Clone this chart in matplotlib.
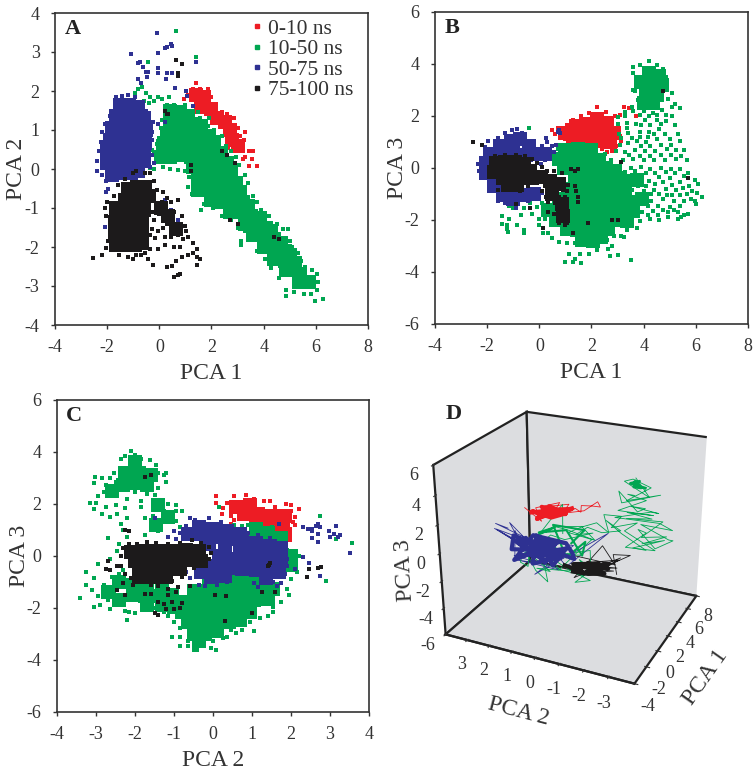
import matplotlib
matplotlib.use("Agg")
import matplotlib.pyplot as plt

# Values. "dense" points stand for the packed parts of a
# cloud and get a bigger square, the others are the single frames around them.
names = ["0-10 ns", "10-50 ns", "50-75 ns", "75-100 ns"]
colors = ["#ed1c24", "#00a651", "#2e3192", "#1c1a1b"]

# Panel A: PCA 1, PCA 2
a_red_dense = [(1.4,1.9),(1.7,1.85),(1.6,1.6),(2.0,1.55),(2.2,1.3),(2.5,1.2),(2.7,1.0),(2.8,0.75),(3.0,0.6)]
a_red = [(0.95,1.8),(1.1,1.9),(1.3,2.05),(1.4,2.2),(1.55,2.05),(1.85,2.05),(2.0,1.85),(2.15,1.6),(2.4,1.45),(2.6,1.4),(2.85,1.3),
         (3.0,1.05),(3.1,0.85),(3.25,0.75),(3.3,0.95),(3.45,0.45),(3.6,0.45),(3.3,0.3),(3.55,0.25),(3.2,0.25),(3.45,0.07),(3.73,0.08),(3.0,0.45),(2.65,0.55)]
a_green_dense = [(0.4,1.5),(0.8,1.45),(1.1,1.35),(0.4,1.2),(0.8,1.2),(1.2,1.15),(1.6,1.1),(0.3,0.9),(0.7,0.9),(1.1,0.9),(1.5,0.85),(1.9,0.85),(2.1,0.7),
                 (0.15,0.6),(0.5,0.6),(0.9,0.6),(1.3,0.6),(1.7,0.6),(2.1,0.5),(2.35,0.4),(0.05,0.32),(0.4,0.32),(0.8,0.35),(1.2,0.3),(1.6,0.3),(2.0,0.25),(2.4,0.2),(2.6,0.15),
                 (1.3,0.05),(1.7,0.0),(2.1,-0.05),(2.5,-0.05),(2.75,-0.05),(1.5,-0.25),(1.9,-0.3),(2.3,-0.3),(2.7,-0.3),(2.95,-0.35),(1.5,-0.55),(1.9,-0.55),(2.3,-0.6),(2.7,-0.6),(3.1,-0.6),
                 (2.0,-0.8),(2.4,-0.85),(2.8,-0.85),(3.2,-0.85),(3.4,-0.95),(2.7,-1.1),(3.1,-1.1),(3.5,-1.2),(3.85,-1.25),(3.3,-1.4),(3.7,-1.45),(4.1,-1.5),(4.3,-1.6),
                 (3.6,-1.7),(4.0,-1.75),(4.4,-1.8),(4.65,-1.9),(4.0,-2.0),(4.4,-2.05),(4.8,-2.1),(5.0,-2.2),(4.4,-2.3),(4.8,-2.35),(5.2,-2.4),(4.85,-2.6),(5.2,-2.6),(5.4,-2.7),(5.35,-2.9),(5.75,-2.9)]
a_green = [(-0.95,1.95),(-0.8,2.05),(-0.65,2.1),(-0.5,1.95),(-0.35,1.85),(-0.2,1.75),(-0.05,1.85),(0.1,1.8),(0.3,1.65),(0.55,1.65),(0.85,1.6),(1.0,1.65),(1.25,1.5),(1.55,1.3),
           (1.85,1.1),(2.1,1.0),(2.4,0.85),(2.55,0.6),(2.75,0.45),(2.95,0.3),(3.05,0.1),(3.3,-0.15),(3.4,-0.35),(3.6,-0.7),(3.75,-0.85),(3.9,-1.05),(4.2,-1.2),(4.5,-1.4),(4.75,-1.55),(4.95,-1.55),
           (5.0,-1.85),(5.1,-2.0),(5.3,-2.15),(5.45,-2.35),(5.6,-2.5),(5.85,-2.6),(6.05,-2.7),(6.1,-2.9),(6.05,-3.1),(6.27,-3.33),(5.98,-3.38),(5.8,-3.2),(5.55,-3.2),(5.15,-3.15),(4.85,-3.1),(4.85,-3.25),
           (4.6,-2.8),(4.3,-2.55),(4.05,-2.3),(3.75,-2.1),(3.15,-1.95),(3.15,-1.85),(3.3,-1.6),(3.0,-1.5),(2.75,-1.3),(2.4,-1.2),(2.05,-1.0),(1.6,-1.05),(1.7,-0.9),(1.25,-0.65),(1.1,-0.45),(1.15,-0.2),
           (1.0,-0.05),(0.7,-0.02),(0.4,0.0),(0.15,0.05),(-0.2,0.0),(-0.35,0.02),(-0.1,0.2),(-0.2,0.4),(-0.1,0.65),(0.0,0.8),(0.05,1.05),(-0.4,0.75),(-0.3,0.5),(0.1,1.25),(-0.6,1.75),(-0.4,1.7),
           (0.37,1.85),(0.65,3.55),(-0.42,2.75),(1.42,2.88),(1.2,1.4),(1.5,1.45),(1.9,1.3)]
a_blue_dense = [(-1.5,1.65),(-1.15,1.65),(-0.8,1.6),(-1.65,1.35),(-1.3,1.35),(-0.95,1.35),(-0.6,1.3),(-1.8,1.05),(-1.45,1.05),(-1.1,1.05),(-0.75,1.0),(-0.5,1.0),(-1.9,0.75),(-1.55,0.75),(-1.2,0.75),(-0.85,0.75),
                (-0.55,0.7),(-2.0,0.45),(-1.65,0.45),(-1.3,0.45),(-0.95,0.45),(-0.6,0.4),(-2.0,0.15),(-1.65,0.15),(-1.3,0.15),(-0.95,0.15),(-0.6,0.2),(-1.8,-0.15),(-1.5,-0.1),(-1.1,-0.1),(-0.8,-0.05)]
a_blue = [(-1.65,1.85),(-1.45,1.88),(-1.2,1.9),(-0.95,1.85),(-0.7,1.7),(-0.5,1.5),(-0.4,1.25),(-0.25,1.2),(-0.05,1.15),(0.2,1.2),(-0.28,0.95),(-0.3,0.75),(-0.35,0.55),(-0.3,0.35),(-0.2,0.15),
          (-0.35,0.05),(-1.9,1.35),(-2.1,1.15),(-2.2,0.95),(-2.25,0.7),(-2.3,0.45),(-2.4,0.2),(-2.4,-0.05),(-2.2,-0.15),(-2.05,-0.3),(-1.95,-0.5),(-2.05,-0.58),(-2.08,-1.48),(-0.6,-0.75),(0.2,-0.8),(0.45,-1.05),(0.7,-1.3),
          (-1.1,2.95),(-0.1,3.5),(-0.05,2.98),(0.2,3.1),(0.28,3.12),(0.45,3.2),(0.5,3.15),(1.4,2.75),(-0.8,2.72),(-0.75,2.75),(-0.62,2.62),(-0.5,2.5),(-0.42,2.5),(-0.05,2.6),(-0.05,2.45),(0.28,2.47),(0.5,2.47),
          (-0.8,2.3),(-0.7,2.2),(-0.48,2.35),(0.25,2.3),(0.6,2.08),(1.03,2.0),(1.05,1.88),(1.3,1.62)]
a_black_dense = [(-1.2,-0.5),(-0.85,-0.45),(-0.55,-0.45),(-1.3,-0.8),(-0.95,-0.8),(-0.6,-0.75),(-0.4,-0.7),(-1.65,-1.0),(-1.3,-1.1),(-0.95,-1.1),(-0.6,-1.05),(-1.7,-1.35),(-1.35,-1.4),(-1.0,-1.4),(-0.65,-1.35),
                 (-1.7,-1.7),(-1.35,-1.7),(-1.0,-1.7),(-0.65,-1.65),(-1.65,-1.95),(-1.3,-1.95),(-0.95,-1.95),(-0.65,-1.9),(0.05,-1.0),(0.35,-1.2),(0.65,-1.55)]
a_black = [(-1.6,-0.4),(-1.3,-0.25),(-1.0,-0.1),(-0.9,-0.05),(-0.55,-0.1),(-0.35,-0.1),(-0.2,-0.3),(-0.1,-0.55),(0.15,-0.6),(0.28,-0.75),(0.45,-0.85),(0.73,-0.8),(0.1,-0.85),(-0.1,-0.95),(-0.25,-1.1),
           (-0.2,-1.3),(0.0,-1.15),(0.2,-1.05),(0.35,-1.15),(0.55,-1.1),(0.85,-1.2),(1.0,-1.45),(1.03,-1.6),(0.75,-1.45),(0.55,-1.5),(0.3,-1.4),(0.15,-1.5),(-0.05,-1.6),(-0.3,-1.55),(-0.35,-1.7),
           (-0.15,-1.78),(0.2,-1.75),(0.45,-1.75),(0.7,-1.7),(0.9,-1.8),(1.1,-1.75),(1.3,-1.9),(1.45,-2.05),(0.8,-2.0),(0.55,-2.0),(0.2,-1.95),(-0.05,-2.05),(-0.35,-2.05),(-0.55,-2.15),(-0.7,-2.2),(-0.45,-2.3),
           (-0.25,-2.45),(0.28,-2.52),(0.48,-2.48),(0.65,-2.35),(0.85,-2.25),(1.1,-2.2),(1.28,-2.15),(1.45,-2.25),(1.55,-2.3),(1.45,-2.45),(0.55,-2.78),(0.7,-2.72),(0.78,-2.7),(-2.55,-2.28),(-2.2,-2.2),(-2.05,-2.02),
           (-1.95,-1.85),(-2.05,-1.2),(-2.1,-1.0),(-2.0,-0.85),(-1.75,-0.7),(-1.55,-2.2),(-1.2,-2.25),(-1.0,-2.3),(-0.9,-2.2),(0.2,1.5),(0.3,1.4),(0.35,1.4),(0.65,2.8),(0.88,2.7),(0.7,2.45),(0.7,2.38),
           (2.4,0.45),(2.6,0.35),(2.9,0.15),(1.2,0.1),(1.2,-0.05),(2.7,-1.3),(3.0,-1.42),(4.4,-1.75),(4.6,-1.8)]

# Panel B: PCA 1, PCA 3
b_red_dense = [(1.0,1.35),(1.4,1.6),(1.8,1.7),(2.2,1.9),(2.6,1.75),(1.3,1.2),(1.7,1.25),(2.1,1.4),(2.5,1.3),(2.85,1.35),(2.2,1.05),(2.7,1.0)]
b_red = [(0.5,1.45),(0.6,1.3),(0.7,1.55),(1.05,1.65),(1.3,1.85),(1.6,2.0),(1.9,2.1),(2.2,2.35),(2.55,2.15),(2.9,2.0),(3.1,2.05),(3.25,2.35),(3.45,2.3),(3.7,2.0),(3.05,1.5),(3.1,1.25),(3.15,1.05),(2.9,0.9),
         (2.8,0.65),(2.95,0.85),(0.8,1.2),(1.0,1.1),(2.4,0.72),(2.6,0.6),(2.4,0.45)]
b_green_dense = [(1.0,0.7),(1.5,0.75),(2.0,0.7),(0.75,0.35),(1.15,0.35),(1.55,0.35),(1.95,0.35),(2.3,0.3),(0.95,0.0),(1.35,0.0),(1.75,0.0),(2.15,0.0),(2.55,0.0),(2.9,-0.1),(1.35,-0.4),(1.75,-0.4),(2.15,-0.4),(2.55,-0.4),(2.95,-0.4),(3.2,-0.5),
                 (1.3,-0.8),(1.7,-0.8),(2.1,-0.8),(2.5,-0.8),(2.9,-0.8),(3.3,-0.85),(0.85,-1.2),(1.25,-1.2),(1.65,-1.2),(2.05,-1.2),(2.45,-1.2),(2.85,-1.2),(3.25,-1.2),(3.6,-1.3),(0.35,-1.6),(0.75,-1.55),(1.2,-1.6),(1.6,-1.6),(2.0,-1.6),(2.4,-1.6),
                 (2.8,-1.6),(3.2,-1.6),(3.6,-1.65),(0.65,-2.0),(1.05,-2.0),(1.45,-2.0),(1.85,-2.0),(2.25,-2.0),(2.65,-2.0),(3.05,-2.0),(3.35,-2.05),(1.05,-2.35),(1.45,-2.4),(1.85,-2.4),(2.25,-2.4),(2.65,-2.35),(1.65,-2.75),(2.05,-2.8),(2.35,-2.65),
                 (4.2,3.65),(4.6,3.55),(3.9,3.3),(4.3,3.3),(4.7,3.2),(4.1,2.9),(4.5,2.8),(4.35,2.5),(4.0,2.5),(3.75,-0.45),(3.95,-1.2)]
b_green = [(-0.4,1.55),(3.6,3.65),(3.6,3.9),(3.85,3.95),(4.2,4.1),(4.5,3.95),(4.75,3.8),(4.85,3.5),(4.65,3.0),(5.1,2.9),(4.95,2.65),(5.2,2.45),(5.1,2.35),(5.4,2.3),(3.6,3.0),(3.65,2.95),(3.8,2.6),(3.55,2.35),(3.3,2.15),(3.0,1.95),
           (3.3,2.0),(3.6,2.2),(4.0,2.2),(4.35,2.1),(4.7,2.25),(5.1,2.0),(4.85,1.8),(4.5,1.85),(4.05,1.85),(3.7,1.7),(3.35,1.55),(3.0,1.7),(3.05,1.3),(3.4,1.35),(3.85,1.4),(4.2,1.4),(4.6,1.5),(5.2,1.65),(5.3,1.3),
           (3.1,0.9),(3.4,0.95),(3.75,1.05),(4.1,1.0),(4.5,1.1),(5.0,1.1),(5.4,1.05),(5.55,0.7),(5.25,0.7),(4.9,0.75),(4.45,0.65),(4.05,0.65),(3.65,0.7),(3.3,0.6),(2.95,0.65),(2.75,0.3),(3.2,0.3),(3.6,0.35),(4.0,0.3),(4.4,0.3),(4.8,0.3),(5.25,0.35),(5.65,0.3),
           (3.5,0.0),(3.9,0.05),(4.25,-0.05),(4.65,0.0),(5.05,-0.05),(5.4,-0.05),(5.7,-0.2),(5.95,-0.45),(6.1,-0.6),(5.75,-0.7),(5.4,-0.55),(5.0,-0.4),(4.6,-0.35),(4.2,-0.5),(3.7,-0.45),(3.55,-0.85),(4.0,-0.9),(4.4,-0.85),(4.85,-0.8),(5.25,-0.85),(5.65,-1.0),
           (6.05,-0.95),(6.25,-1.1),(5.95,-1.25),(6.0,-1.4),(5.55,-1.25),(5.15,-1.25),(4.75,-1.2),(4.3,-1.25),(3.9,-1.3),(3.95,-1.7),(4.35,-1.65),(4.75,-1.6),(5.15,-1.6),(5.45,-1.9),(5.55,-1.8),(5.7,-1.75),(5.3,-1.95),(4.95,-1.9),(4.6,-2.0),(4.25,-1.95),
           (3.85,-2.05),(3.75,-2.3),(3.55,-2.2),(3.35,-2.4),(3.25,-2.65),(3.15,-2.6),(2.85,-2.6),(2.6,-2.75),(2.8,-3.0),(2.7,-3.4),(3.0,-3.35),(2.65,-3.1),(2.2,-3.15),(1.9,-3.3),(1.55,-3.3),(1.35,-3.5),(1.6,-3.65),(1.3,-3.6),(1.0,-3.6),(3.5,-3.55),(1.15,-3.3),
           (1.05,-2.9),(1.35,-2.9),(0.75,-2.85),(0.5,-2.7),(0.35,-2.5),(0.15,-2.5),(-0.6,-2.4),(-0.6,-2.5),(-1.25,-2.2),(-1.45,-2.15),(-1.45,-1.85),(-1.25,-2.35),(-1.2,-2.45),(-0.85,-2.2),(-1.15,-1.95),(-1.15,-1.45),(-1.0,-1.55),(-0.7,-1.8),(-0.6,-1.55),(-0.35,-1.35),(-0.1,-1.5),(-0.3,-1.75),
           (0.0,-1.95),(0.2,-1.95),(0.0,-2.2),(0.1,-1.35),(0.35,-1.2),(0.55,0.6),(0.7,0.75),(2.5,0.55),(2.75,0.1),
           (3.8,-0.7),(4.1,-0.7),(4.3,-1.0),(4.6,-1.0),(4.9,-1.05),(5.1,-1.05),(5.4,-1.05),(5.5,-0.75),(5.1,-0.65),(4.75,-0.55),(4.45,-0.6),(4.1,-0.2),(4.45,-0.2),(4.85,-0.15),(5.2,-0.2),(5.55,-0.3),(5.85,-0.9),(5.8,-1.2),(5.4,-1.45),(5.0,-1.5),(4.55,-1.45),(4.15,-1.45),(4.15,-1.8),(4.55,-1.8),(4.95,-1.7),(5.3,-1.7),
           (3.85,1.2),(4.15,1.2),(4.4,1.3),(4.8,1.3),(3.9,1.65),(4.25,1.65),(4.65,1.7),(3.85,2.05),(4.2,2.0),(4.5,2.05),(4.85,2.05),(3.35,1.75),(3.15,1.15),(3.55,1.15),(3.9,0.85),(4.25,0.85),(4.65,0.9),(5.05,0.9),(3.45,0.5),(3.85,0.45),(4.25,0.45),(4.65,0.5),(5.05,0.5),(5.45,0.45),(3.3,-0.15),(3.65,-0.1)]
b_blue_dense = [(-1.9,0.55),(-1.5,0.85),(-1.1,1.05),(-0.75,1.1),(-0.4,0.85),(-0.1,0.55),(-2.05,0.15),(-2.05,-0.2),(-1.75,-0.7),(-1.4,-1.05),(-1.0,-1.2),(-0.6,-1.05),(-0.2,-1.0),(-1.5,0.4),(-1.0,0.6),(-0.5,0.5),(0.2,0.55)]
b_blue = [(-2.25,0.4),(-2.35,0.15),(-2.1,0.8),(-1.95,1.05),(-1.6,1.15),(-1.3,1.35),(-1.05,1.45),(-0.85,1.5),(-0.65,1.35),(-0.55,1.15),(-0.25,1.05),(0.25,1.15),(0.3,1.0),(0.5,0.85),(0.55,0.6),(0.65,0.9),(0.7,1.4),(0.75,1.45),(0.8,1.35),
          (-1.6,-1.25),(-1.3,-1.35),(-1.05,-1.4),(-0.9,-1.55),(-0.8,-1.35),(-0.45,-1.25),(-0.2,-1.15),(0.1,-0.95),(0.2,0.3),(0.05,0.15),(-0.05,0.75),(0.1,0.85),(0.15,0.75),(-2.3,-0.1),(-2.2,-0.35)]
b_black_dense = [(-1.65,0.2),(-1.3,0.25),(-0.95,0.25),(-0.6,0.15),(-1.75,-0.15),(-1.4,-0.1),(-1.05,-0.1),(-0.7,-0.1),(-0.35,-0.1),(-1.4,-0.4),(-1.05,-0.45),(-0.7,-0.4),(-0.3,-0.4),(0.05,-0.35),(0.4,-0.5),(0.75,-0.6),(-1.2,-0.65),(-0.85,-0.65),(0.5,-1.0),(0.85,-1.4),(0.9,-1.85)]
b_black = [(-2.55,1.0),(-2.2,0.9),(-1.7,0.45),(-1.3,0.5),(-0.9,0.5),(-0.55,0.45),(-0.3,0.35),(-0.1,0.2),(0.1,0.05),(0.3,-0.1),(0.55,-0.1),(0.85,-0.2),(1.2,-0.05),(1.35,-0.1),(1.5,-0.05),(0.95,-0.45),(1.1,-0.65),(1.35,-0.7),(1.4,-0.9),(1.05,-0.9),
           (0.9,-0.85),(0.65,-0.95),(0.35,-0.95),(0.1,-0.9),(0.25,-1.1),(0.5,-1.15),(0.75,-1.1),(1.0,-1.1),(1.5,-1.1),(1.5,-1.3),(0.35,-1.3),(0.6,-1.35),(0.85,-1.4),(1.05,-1.4),(0.95,-1.6),(0.8,-1.6),(0.35,-1.7),(0.55,-1.75),(0.75,-1.85),
           (1.0,-1.8),(0.9,-2.0),(0.75,-2.1),(1.05,-2.1),(1.0,-2.2),(-1.6,-0.85),(-1.35,-0.85),(-1.05,-0.85),(-0.75,-0.9),(-0.45,-0.7),(-0.9,-1.4),(-0.35,-1.55),(0.15,-2.3),(1.3,-2.5),(3.15,0.25),(4.75,2.95),(5.7,-0.4),(1.85,-2.1),(2.8,-2.0),(3.0,-2.0)]

# Panel C: PCA 2, PCA 3
c_red_dense = [(0.6,1.9),(0.95,1.95),(0.8,1.6),(1.15,1.6),(1.5,1.55),(1.85,1.55),(1.1,1.3),(1.45,1.3),(1.8,1.25),(1.65,0.9),(1.85,0.8)]
c_red = [(0.07,2.3),(0.08,2.05),(0.25,1.85),(0.22,1.6),(0.35,2.05),(0.55,2.3),(0.85,2.35),(1.05,2.2),(1.3,2.1),(1.45,2.1),(1.6,1.9),(1.87,2.0),(2.0,1.95),(2.0,1.75),(2.2,1.8),(2.1,1.5),(2.05,1.3),(2.1,1.2),(1.98,1.05),(0.55,1.4),(0.45,1.55),(0.45,1.25),(0.55,1.1),(1.72,0.55),(1.8,0.5)]
c_green_dense = [(-2.0,3.6),(-2.25,3.2),(-1.9,3.2),(-1.6,3.1),(-2.0,2.8),(-1.7,2.75),(-0.1,-1.0),(0.25,-1.0),(0.6,-0.95),(0.95,-1.0),(1.3,-0.9),(-0.5,-1.35),(-0.15,-1.35),(0.2,-1.35),(0.55,-1.35),(0.9,-1.35),(1.25,-1.3),(1.55,-1.25),
                 (-0.7,-1.75),(-0.35,-1.75),(0.0,-1.75),(0.35,-1.75),(0.7,-1.75),(1.05,-1.7),(1.4,-1.65),(-0.8,-2.15),(-0.45,-2.15),(-0.1,-2.15),(0.25,-2.15),(0.6,-2.15),(0.95,-2.15),(-0.65,-2.55),(-0.3,-2.55),(0.05,-2.55),(0.4,-2.55),(0.7,-2.45),
                 (-0.5,-3.0),(-0.2,-3.0),(0.1,-2.9),(-0.35,-3.25),(-1.05,-1.5),(-1.4,-1.55),(-1.75,-1.55),(-1.3,-1.2),(-1.7,-1.15),(-2.05,-1.1),(-2.05,-1.5),(1.1,1.05),(1.4,0.9),(1.75,0.7),(2.0,0.0),(2.0,-0.35),
                 (-2.4,-1.0),(-2.7,-1.4),(-2.4,-1.7),(-1.7,-1.9),(-1.3,-1.9),(-1.0,-1.95),(-2.6,2.5),(-2.3,2.75),(-1.4,1.95),(-1.15,1.5),(-1.45,1.2)]
c_green = [(-2.1,4.05),(-2.25,3.85),(-2.35,3.75),(-2.0,3.9),(-1.85,3.75),(-1.62,3.7),(-1.45,3.5),(-1.4,3.2),(-1.25,3.1),(-1.2,3.2),(-1.2,2.85),(-1.4,2.6),(-2.55,3.2),(-2.65,3.0),(-2.85,3.0),(-3.03,3.05),(-3.05,2.8),(-2.75,2.75),(-2.5,2.85),
           (-2.55,2.55),(-2.8,2.45),(-2.95,2.3),(-2.55,2.3),(-2.3,2.55),(-2.0,2.45),(-1.7,2.4),(-1.5,2.35),(-1.3,2.15),(-1.15,2.0),(-0.95,1.95),(-0.95,1.75),(-0.8,1.75),(-1.25,1.75),(-1.55,1.9),(-1.85,2.1),(-2.2,2.2),(-2.5,1.95),(-2.75,1.9),(-3.0,2.05),(-3.15,2.05),
           (-3.05,1.8),(-2.85,1.6),(-2.65,1.5),(-2.45,1.6),(-2.25,1.85),(-2.2,1.45),(-2.35,1.25),(-2.3,1.0),(-2.2,0.75),(-2.4,0.45),(-2.7,0.7),(-1.85,1.9),(-1.75,1.45),(-1.55,1.55),(-1.6,1.05),(-1.4,0.95),(-1.2,1.35),(-1.1,1.4),(-0.95,1.35),(-0.85,1.1),
           (-1.75,0.8),(-2.15,0.45),(-2.45,0.2),(-2.65,-0.1),(-2.95,-0.3),(-3.25,-0.6),(-3.05,-0.85),(-3.25,-1.1),(-3.1,-1.3),(-3.4,-1.6),(-2.95,-1.55),(-3.05,-1.95),(-2.9,-1.9),(-2.7,-1.7),(-2.55,-1.35),(-2.8,-1.1),(-2.6,-0.8),(-2.4,-0.7),(-2.3,-0.55),
           (-2.65,-2.05),(-2.35,-1.85),(-2.25,-2.1),(-2.2,-2.45),(-2.15,-2.15),(-2.0,-2.2),(-1.75,-2.05),(-1.5,-2.0),(-1.25,-2.15),(-1.15,-2.3),(-1.0,-2.55),(-0.85,-2.75),(-1.05,-3.1),(-0.85,-3.1),(-0.65,-3.25),(-0.85,-3.45),(-0.65,-3.45),(-0.5,-3.6),(-0.4,-3.6),(-0.05,-3.55),(0.07,-3.6),
           (0.0,-3.25),(0.25,-3.15),(0.35,-3.1),(0.45,-2.85),(0.6,-2.95),(0.75,-2.85),(0.95,-2.55),(1.05,-2.9),(1.2,-2.4),(1.4,-2.3),(1.55,-2.15),(1.55,-1.95),(1.75,-1.75),(1.95,-1.5),(1.9,-1.25),(2.0,-0.9),(2.15,-0.6),(2.1,-0.3),(2.2,0.0),(2.1,0.1),(1.9,0.25),
           (0.55,1.2),(0.75,1.15),(0.9,1.2),(1.05,1.25),(1.2,1.2),(1.5,1.1),(0.15,1.9),(-0.25,1.25),(2.9,-0.95),(2.75,1.55),(3.15,0.65),(3.57,0.5),(-0.3,1.1)]
c_blue_dense = [(-0.35,1.1),(0.0,1.05),(0.35,0.95),(0.7,0.85),(-0.65,0.85),(-0.3,0.85),(0.05,0.75),(0.4,0.65),(0.75,0.55),(1.1,0.5),(1.45,0.4),(1.75,0.3),(-0.1,0.45),(0.3,0.3),(0.7,0.2),(1.05,0.15),(1.4,0.1),(1.7,0.05),(0.15,0.0),(0.5,-0.1),
                (0.85,-0.15),(1.2,-0.2),(1.55,-0.2),(1.75,-0.2),(0.05,-0.4),(0.4,-0.45),(0.75,-0.5),(1.1,-0.55),(1.45,-0.6),(1.7,-0.6),(-0.3,-0.6),(-0.05,-0.8),(0.3,-0.75),(1.35,-0.85)]
c_blue = [(-1.5,1.45),(-1.0,0.95),(-1.15,0.75),(-0.95,0.65),(-0.6,1.45),(-0.7,1.15),(-0.85,0.9),(-0.45,1.4),(-0.1,1.45),(0.2,1.3),(0.55,1.05),(0.9,0.9),(1.15,0.8),(1.45,0.7),(1.7,0.45),(1.85,0.25),(1.9,-0.1),(1.9,-0.4),(1.85,-0.7),(1.75,-1.05),(1.55,-1.0),(1.65,-1.15),(1.35,-1.05),
          (1.05,-1.05),(1.15,-1.2),(0.35,-1.0),(0.1,-1.1),(-0.2,-1.15),(-0.35,-1.1),(-0.6,-0.85),(-0.7,-0.6),(2.3,1.1),(2.43,1.05),(2.55,0.95),(2.65,1.15),(2.7,1.25),(2.75,1.1),(2.55,1.05),(2.7,0.85),(2.55,0.7),(2.7,0.55),(2.75,1.1),(2.98,0.95),(3.0,0.75),(3.15,1.15),(3.1,0.85),(3.2,0.75),(3.25,0.8),
          (2.3,-0.05),(2.47,-0.25),(2.75,-0.75),(3.52,0.1),(2.1,-0.5),(1.7,1.25)]
c_black_dense = [(-2.1,0.15),(-1.75,0.2),(-1.4,0.2),(-1.05,0.2),(-0.7,0.25),(-0.35,0.2),(-2.0,-0.2),(-1.65,-0.15),(-1.3,-0.15),(-0.95,-0.15),(-0.6,-0.15),(-0.3,-0.2),(-1.9,-0.5),(-1.55,-0.5),(-1.2,-0.5),(-0.85,-0.5),(-1.55,-0.8),(-1.9,-0.8),(-1.2,-0.8)]
c_black = [(-2.3,0.3),(-2.15,0.45),(-1.95,0.45),(-1.7,0.55),(-1.45,0.5),(-1.15,0.45),(-0.85,0.5),(-0.55,0.6),(-0.3,0.5),(-0.1,0.35),(-0.05,0.1),(-0.1,-0.1),(-0.2,-0.35),(-0.5,-0.45),(-0.75,-0.45),(-1.0,-0.6),(-2.35,0.0),(-2.35,-0.4),(-2.25,-0.7),(-2.1,-0.85),
           (-1.85,-0.9),(-1.55,-0.85),(-1.3,-0.9),(-1.05,-0.95),(-0.8,-0.8),(-2.3,-1.05),(-2.05,-1.1),(-1.6,-1.1),(-1.4,-1.15),(-1.15,-1.25),(-0.9,-1.2),(-1.75,-1.45),(-1.6,-1.45),(-1.15,-1.5),(-0.95,-1.4),(-1.4,-1.75),(-1.25,-1.85),(-1.05,-1.75),(-0.8,-1.8),(-1.2,-2.05),
           (-1.0,-2.05),(-0.85,-2.0),(-1.5,-2.2),(-1.4,-2.25),(-2.25,-1.5),(-2.45,-1.3),(-2.45,-0.4),(-2.75,-0.5),(-2.65,-0.55),(-2.7,-0.2),(-2.25,1.0),(-2.15,0.95),(-0.6,-1.15),(1.43,-0.35),(1.45,-0.25),(1.4,-0.4),(2.47,-0.5),(2.4,-0.82),(2.7,-0.45),(2.78,-0.43),(0.05,-1.5),(0.33,-1.55),
           (1.25,-1.4),(1.6,-1.4),(1.0,-2.2),(0.32,-2.5),(-1.6,3.1),(-1.75,3.05)]

# Panel D: PCA 2, PCA 1, PCA 3, in the order the lines go
d_red = [(1.9,0.9,1.9),(1.2,1.0,1.1),(1.7,1.8,1.6),(0.7,2.0,2.2),(1.2,2.6,1.0),(0.4,1.5,1.9),(1.0,1.2,1.4),(0.5,2.4,1.6),(1.5,2.2,1.2),(0.7,2.9,1.4),(0.3,2.0,2.2),(1.3,1.5,1.9),(0.9,2.7,1.1),(0.2,2.6,1.7),(-0.1,2.4,1.6),(0.1,3.2,1.7),(-0.4,3.0,1.9),(-0.7,3.3,1.8),(-0.5,3.6,2.0),(-0.1,2.9,1.5),(0.7,2.3,1.3)]
d_red_thick = [(1.7,1.2,1.5),(1.2,1.6,1.6),(1.4,1.0,1.2),(0.8,1.9,1.7),(1.2,2.1,1.2),(0.6,1.6,1.9),(0.3,2.4,1.7),(0.9,2.3,1.2),(1.3,1.5,1.4),(1.6,1.0,1.7),(0.9,1.4,1.3),(0.5,2.2,1.4),(1.1,1.8,1.9),(1.5,1.4,1.1),(0.7,2.0,1.5),(0.4,1.9,1.6),(1.2,1.2,1.8),(0.6,2.5,1.2),(1.4,1.7,1.8),(0.8,1.2,1.6),(0.2,2.1,1.9)]
d_green = [(-1.9,4.4,3.8),(-2.4,3.7,3.4),(-2.6,3.9,2.8),(-1.4,4.5,3.4),(-1.9,3.9,3.9),(-2.5,4.6,3.2),(-1.7,3.7,2.4),(-2.9,4.6,2.8),(-1.4,4.1,2.0),(-1.1,4.8,2.5),(-2.1,4.0,1.6),(-2.6,3.2,2.3),(-1.6,4.9,1.5),(-3.0,3.9,1.8),(-2.4,5.2,1.2),(-1.2,3.8,1.0),
           (-2.7,5.6,0.3),(-3.2,5.9,-0.2),(-2.1,4.7,0.4),(-3.0,6.2,-1.1),(-3.3,5.6,-0.8),(-2.7,4.9,-1.3),(-1.9,5.1,-0.2),(-2.5,4.0,0.2),(-1.7,3.7,-1.0),(-2.6,5.4,-1.7),(-1.5,4.3,-0.1),(-2.2,3.6,1.0),(-1.2,3.2,0.5),(-1.7,2.9,1.6),(-0.8,3.5,1.2),(-1.3,2.4,0.5),(-0.7,2.7,0.9),
           (-0.4,1.5,1.0),(-0.8,2.1,-0.1),(0.2,1.3,0.7),(0.7,1.2,0.8),(-0.2,2.4,0.6),(0.3,1.9,0.2),(-0.4,3.1,-0.6),(0.1,2.6,-1.5),(0.5,1.2,-2.3),(0.9,0.9,-1.3),(0.4,2.3,-2.8),(-0.5,2.5,-3.4),(-0.1,1.5,-3.2),(-0.7,3.1,-2.4),(-0.1,2.8,-3.3),(0.3,1.0,-2.2),(0.9,0.3,-1.6),(0.6,-0.2,-2.6),(1.0,-0.6,-1.7),(1.6,0.0,-0.8),(0.4,1.4,2.4),(0.4,1.4,0.3)]
d_green_more = [(-2.1,3.4,3.0),(-1.6,4.3,2.6),(-2.3,4.7,2.2),(-1.3,3.9,1.5),(-2.7,4.3,1.4),(-1.9,3.0,1.9),(-2.5,5.0,0.8),(-1.5,4.6,0.7),(-2.9,5.3,0.6),(-2.2,4.4,-0.4),(-3.1,5.2,-0.4),(-2.4,3.7,-0.5),(-2.9,5.8,-1.0),(-1.9,4.2,-1.2),(-2.3,5.0,-1.6),(-1.6,3.4,0.1),(-1.0,3.1,1.0),(-1.8,2.4,0.8),(-0.9,2.8,0.2),
                (-0.5,2.0,0.8),(-0.1,1.6,0.3),(-0.6,2.5,0.2),(0.2,1.0,0.1),(0.6,0.3,0.6),(1.1,0.1,-0.3),(1.5,-0.8,-0.6),(1.7,-0.5,-1.4),(1.2,-1.0,-1.3),(1.6,0.4,-1.1),(0.7,0.5,-2.2),(1.2,0.2,-2.0),(0.2,1.6,-2.5),(-0.3,2.2,-2.0),(0.1,2.9,-2.2),(-0.6,2.2,-2.8),(-0.3,3.2,-1.5),(0.5,2.0,-1.5),(0.9,1.3,-0.6),(0.2,0.9,-1.0),(-0.4,1.4,-1.0)]
d_green_top = [(-1.9,4.3,3.6),(-2.2,4.1,3.3),(-1.8,4.5,3.1),(-2.1,4.2,3.7),(-1.7,4.3,3.4),(-2.3,4.4,3.2)]
d_green_mid = [(1.1,0.2,0.5),(0.6,0.9,0.9),(1.3,0.9,0.3),(0.3,1.6,0.5),(-0.3,1.9,-1.3),(-0.3,2.4,-0.5),(0.2,1.2,-1.3),(0.7,1.0,1.0),(-0.4,1.9,0.6),(0.2,2.0,-0.6)]
d_blue = [(2.2,-0.5,0.9),(3.0,0.2,0.7),(0.5,-0.9,0.3),(2.9,0.0,0.4),(1.0,-1.2,0.0),(3.2,0.6,0.1),(0.8,-0.7,-0.3),(2.6,0.9,0.6),(1.2,-1.6,0.3),(2.3,0.7,0.2),(1.7,-1.2,-0.6),(1.9,-0.7,-0.9),(0.2,-1.9,-0.4),(1.3,-2.2,-0.3),(-0.2,-1.3,-0.9),(1.3,-1.5,0.9),(-0.6,-0.5,0.6),(0.5,-2.3,-1.0),(-1.5,1.5,0.9),(-0.5,-1.2,-0.6),(0.6,-1.0,1.1)]
d_blue_thick = [(1.1,-1.2,0.2),(0.4,-1.6,0.6),(-0.2,-0.8,-0.2),(0.7,-1.9,-0.5),(0.9,-0.7,0.9),(0.1,-1.1,-0.8),(-0.4,-0.9,0.5),(1.3,-1.6,-0.3),(0.3,-0.5,0.2),(0.8,-1.3,0.6),(-0.1,-1.5,0.9),(0.2,-1.8,-0.3),(1.1,-1.5,1.0),(1.6,-1.2,0.4),(0.5,-0.9,-0.7),(-0.3,-1.2,0.2),(1.0,-1.0,-0.5),(0.4,-1.4,1.0),(1.4,-0.9,0.3),(0.0,-0.7,0.7),(0.6,-1.7,0.1),
                (1.8,-0.6,0.2),(1.5,-0.3,-0.5),(1.9,-1.0,-0.3),(2.0,-0.4,0.4),(-0.6,-0.4,-0.4),(-0.7,-1.0,0.3),(-0.2,-0.2,0.5),(1.2,-0.2,0.6),(1.6,-1.6,-0.7),(0.9,-2.0,0.1)]
d_black = [(-0.6,-1.4,0.4),(-2.1,0.3,-0.6),(-1.4,1.0,0.2),(-0.9,-1.5,-1.1),(-2.2,0.8,-0.3),(-1.0,-0.5,-1.2),(-1.9,0.9,-1.4),(-1.3,-1.7,-0.2),(-2.4,-0.6,-0.3),(-0.6,-0.9,-0.5),(-2.0,1.4,-0.8),(-1.2,0.5,-1.5),(-2.5,1.2,-0.2),(-1.7,1.6,-0.6),(-2.2,0.2,-1.2)]
d_black_thick = [(-0.6,-1.8,-0.2),(-1.2,-1.4,-0.6),(-0.9,-1.6,-0.1),(-1.7,-0.7,-0.2),(-1.5,-0.6,-0.9),(-1.1,-0.9,-1.0),(-2.0,-0.3,-0.3),(-1.7,0.2,-0.6),(-1.4,-0.2,-0.9),(-1.0,-1.2,-0.4),(-1.6,-0.4,-0.6),(-1.9,0.0,-0.8),(-1.3,-0.9,-0.2),(-1.8,-0.2,-1.1),(-1.2,-0.5,-1.2),(-0.8,-1.3,-0.8)]

tick_color = "#333333"


def add_axes(fig, left, top, right, bottom):
    return fig.add_axes([left / 755, 1 - bottom / 772, (right - left) / 755, (bottom - top) / 772])


def draw_panel(ax, panel, xlim, ylim, xticks, yticks, xlabel, ylabel, letter):
    # panel is [(dense, sparse), ...] in the order red, green, blue, black
    for (dense, sparse), col in zip(panel, colors):
        ax.scatter(*zip(*dense), s=105, marker="s", color=col, linewidths=0, zorder=2)
        ax.scatter(*zip(*sparse), s=12, marker="s", color=col, linewidths=0, zorder=2)
    ax.set_xlim(xlim)
    ax.set_ylim(ylim)
    ax.set_xticks(xticks)
    ax.set_yticks(yticks)
    ax.tick_params(length=3, width=1, colors=tick_color, labelsize=13)
    ax.tick_params(axis="x", pad=7)
    ax.tick_params(axis="y", pad=8)
    ax.set_xlabel(xlabel, fontsize=17, color=tick_color, labelpad=5)
    ax.set_ylabel(ylabel, fontsize=17, color=tick_color, labelpad=-2)
    for side in ax.spines.values():
        side.set_linewidth(1.2)
        side.set_color(tick_color)
    ax.text(0.03, 0.95, letter, transform=ax.transAxes, fontsize=16, fontweight="bold", va="center", color="#222222")


plt.rcParams["font.family"] = ["Liberation Serif", "DejaVu Serif"]
plt.rcParams["axes.unicode_minus"] = False
fig = plt.figure(figsize=(7.55, 7.72), dpi=100)

ax_a = add_axes(fig, 55, 13, 368, 325)
draw_panel(ax_a, [(a_red_dense, a_red), (a_green_dense, a_green), (a_blue_dense, a_blue), (a_black_dense, a_black)],
           (-4, 8), (-4, 4), range(-4, 9, 2), range(-4, 5), "PCA 1", "PCA 2", "A")
handles = [plt.Line2D([], [], ls="none", marker="s", ms=3.2, color=c) for c in colors]
ax_a.legend(handles, names, loc="upper left", frameon=False, fontsize=15.5, labelspacing=0.02,
            handletextpad=0.0, handlelength=1.0, borderaxespad=0, bbox_to_anchor=(0.585, 1.01), labelcolor=tick_color)

ax_b = add_axes(fig, 435, 12, 748, 324)
draw_panel(ax_b, [(b_red_dense, b_red), (b_green_dense, b_green), (b_blue_dense, b_blue), (b_black_dense, b_black)],
           (-4, 8), (-6, 6), range(-4, 9, 2), range(-6, 7, 2), "PCA 1", "PCA 3", "B")

ax_c = add_axes(fig, 57, 400, 369, 712)
draw_panel(ax_c, [(c_red_dense, c_red), (c_green_dense, c_green), (c_blue_dense, c_blue), (c_black_dense, c_black)],
           (-4, 4), (-6, 6), range(-4, 5), range(-6, 7, 2), "PCA 2", "PCA 3", "C")

# Panel D is a real 3D axes, the box is what gives the view
ax_d = fig.add_axes([0.507, 0.09, 0.50, 0.42], projection="3d")
ax_d.set_facecolor("none")
ax_d.set_proj_type("persp", focal_length=0.5)
ax_d.view_init(elev=25, azim=-65)
ax_d.set_box_aspect((1.08, 0.97, 0.96), zoom=0.98)
ax_d.set_xlim(4, -4)
ax_d.set_ylim(-4, 8)
ax_d.set_zlim(-6, 6)
ax_d.set_xticks(range(-3, 4))
ax_d.set_yticks(range(-4, 9, 2))
ax_d.set_zticks(range(-6, 7, 2))
ax_d.grid(False)
for axis in (ax_d.xaxis, ax_d.yaxis, ax_d.zaxis):
    axis.set_pane_color("#dcdde0")
    axis.pane.set_edgecolor("#222222")
    axis.pane.set_linewidth(1.6)
    axis.line.set_color("#222222")
    axis.line.set_linewidth(1.6)
ax_d.zaxis.set_ticks_position("lower")
ax_d.tick_params(labelsize=13, colors=tick_color, pad=0)
ax_d.set_xlabel("PCA 2", fontsize=17, color=tick_color, labelpad=4)
ax_d.set_ylabel("PCA 1", fontsize=17, color=tick_color, labelpad=4)
for line, col in zip([d_red, d_green, d_blue, d_black], colors):
    ax_d.plot(*zip(*line), color=col, lw=0.6)
ax_d.plot(*zip(*d_green_more), color=colors[1], lw=0.6)
ax_d.plot(*zip(*d_green_mid), color=colors[1], lw=1.5)
for thick, col in zip([d_red_thick, d_blue_thick, d_black_thick], [colors[0], colors[2], colors[3]]):
    ax_d.plot(*zip(*thick), color=col, lw=3)
ax_d.plot(*zip(*d_green_top), color=colors[1], lw=2)
# mplot3d would turn this label upside down on the left edge
fig.text(405 / 755, 1 - 570 / 772, "PCA 3", fontsize=17, color=tick_color, rotation=93, ha="center", va="center")
fig.text(446 / 755, 1 - 414 / 772, "D", fontsize=16, fontweight="bold", va="center", color="#222222")

fig.savefig("out.png", dpi=100)
